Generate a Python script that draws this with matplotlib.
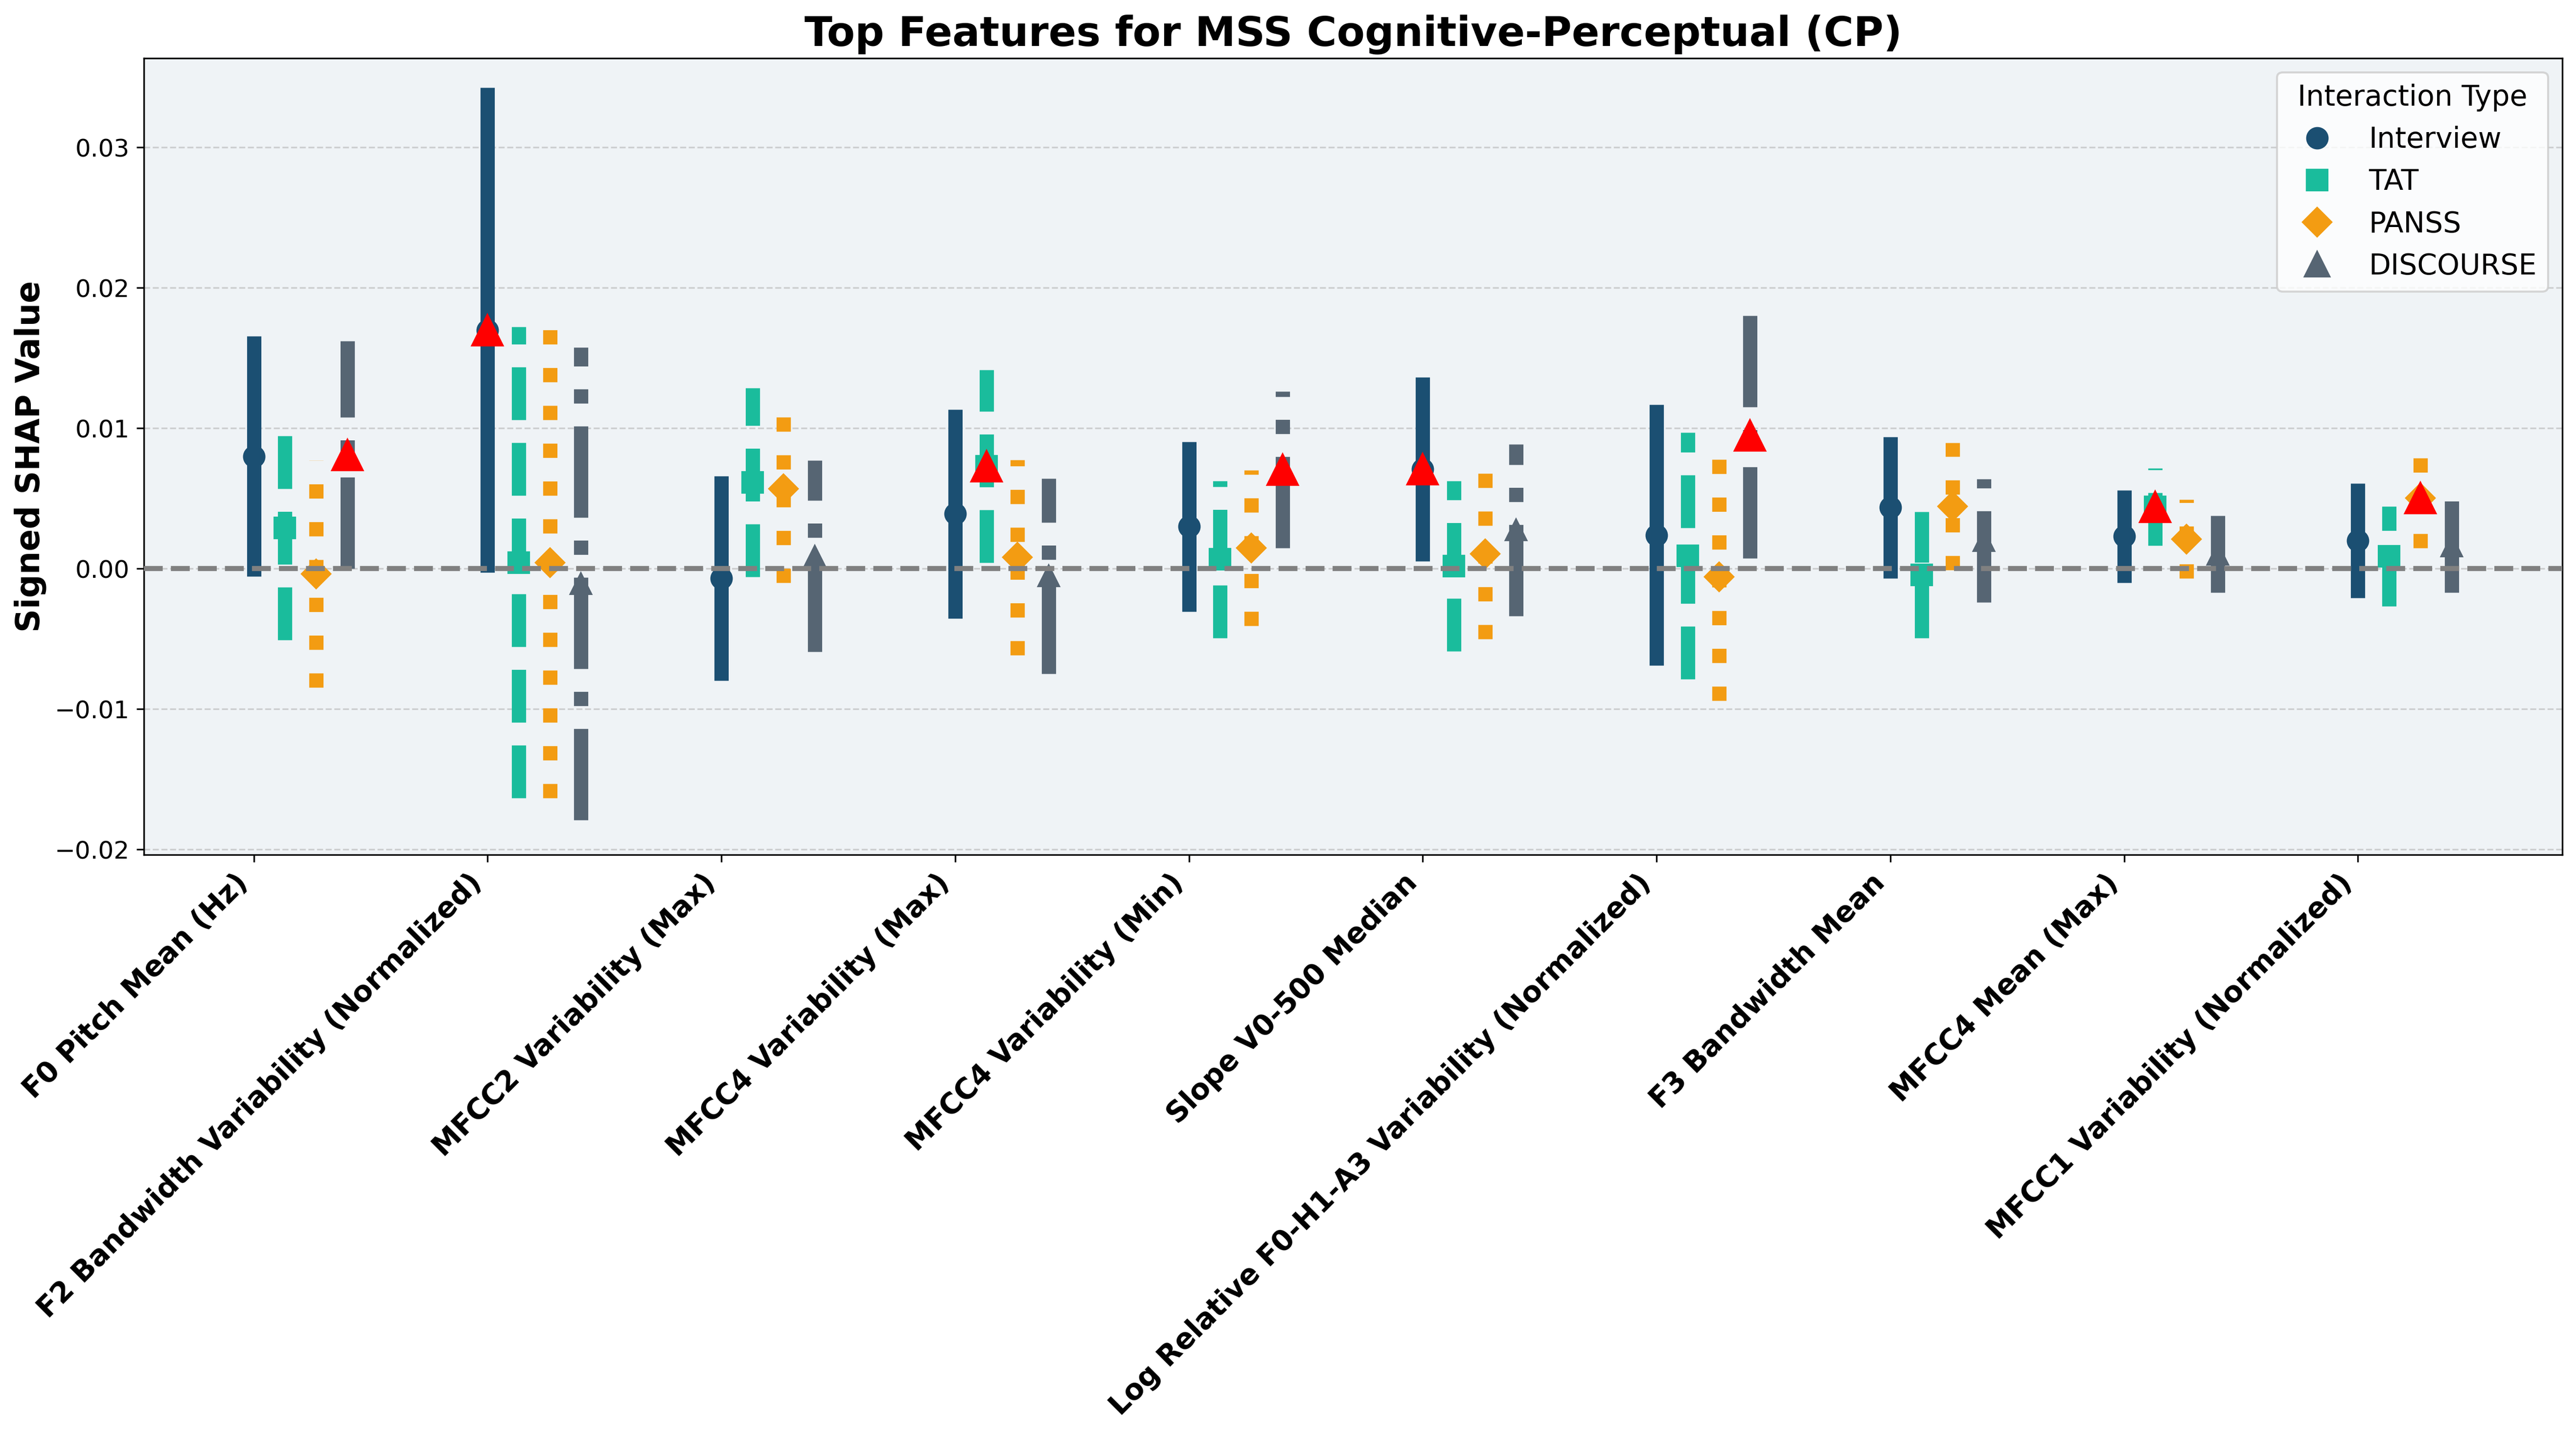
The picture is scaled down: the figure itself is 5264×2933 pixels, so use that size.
import matplotlib
matplotlib.use("Agg")
import matplotlib.pyplot as plt
from matplotlib.lines import Line2D
import numpy as np

features = ["F0 Pitch Mean (Hz)", "F2 Bandwidth Variability (Normalized)",
            "MFCC2 Variability (Max)", "MFCC4 Variability (Max)",
            "MFCC4 Variability (Min)", "Slope V0-500 Median",
            "Log Relative F0-H1-A3 Variability (Normalized)", "F3 Bandwidth Mean",
            "MFCC4 Mean (Max)", "MFCC1 Variability (Normalized)"]

types = ["Interview", "TAT", "PANSS", "DISCOURSE"]

interview_mean = [0.0080, 0.0170, -0.00067, 0.0039, 0.0030, 0.0071, 0.0024, 0.00436, 0.0023, 0.0020]
interview_err = [0.00855, 0.01727, 0.00728, 0.00743, 0.00605, 0.00655, 0.00928, 0.00503, 0.00329, 0.00407]

tat_mean = [0.0029, 0.00044, 0.00614, 0.0073, 0.00067, 0.00018, 0.00092, -0.00044, 0.0044, 0.00089]
tat_err = [0.00796, 0.01678, 0.00673, 0.00686, 0.00559, 0.00606, 0.00879, 0.00451, 0.00274, 0.00355]

panss_mean = [-0.00037, 0.00044, 0.0057, 0.00081, 0.00148, 0.00107, -0.00059, 0.00444, 0.00211, 0.00504]
panss_err = [0.0081, 0.01678, 0.0067, 0.00695, 0.00555, 0.00606, 0.0088, 0.00454, 0.00281, 0.00356]

discourse_mean = [0.0081, -0.00107, 0.0009, -0.00052, 0.00706, 0.00275, 0.0095, 0.0020, 0.00104, 0.0016]
discourse_err = [0.0081, 0.01682, 0.00681, 0.00695, 0.00558, 0.00611, 0.00876, 0.0044, 0.00274, 0.0033]

# type highlighted with a red triangle for each feature (None = no highlight)
highlight = ["DISCOURSE", "Interview", None, "TAT", "DISCOURSE", "Interview",
             "DISCOURSE", None, "TAT", "PANSS"]

means = {"Interview": interview_mean, "TAT": tat_mean, "PANSS": panss_mean, "DISCOURSE": discourse_mean}
errs = {"Interview": interview_err, "TAT": tat_err, "PANSS": panss_err, "DISCOURSE": discourse_err}
colors = {"Interview": "#1B4F72", "TAT": "#1ABC9C", "PANSS": "#F39C12", "DISCOURSE": "#566573"}
markers = {"Interview": "o", "TAT": "s", "PANSS": "D", "DISCOURSE": "^"}
lstyles = {"Interview": "-", "TAT": "--", "PANSS": ":", "DISCOURSE": "-."}

W, H, DPI = 5264, 2933, 300
fig = plt.figure(figsize=(W / DPI, H / DPI), dpi=DPI)
fig.patch.set_facecolor("white")
ax = fig.add_axes([294 / W, 1 - 1746.7 / H, (5236 - 294) / W, (1746.7 - 118.6) / H])
ax.set_facecolor("#EFF3F6")

x = np.arange(len(features))
offset = 0.4 / 3

for j, t in enumerate(types):
    xs = x + j * offset
    m = np.array(means[t])
    e = np.array(errs[t])
    ax.plot(xs, m, linestyle="none", marker=markers[t], markersize=10,
            color=colors[t], zorder=3)
    ax.vlines(xs, m - e, m + e, colors=colors[t], linestyles=lstyles[t],
              linewidth=7, zorder=4)

for i, h in enumerate(highlight):
    if h is None:
        continue
    j = types.index(h)
    ax.plot(x[i] + j * offset, means[h][i], marker="^", markersize=15,
            color="red", linestyle="none", zorder=6)

ax.axhline(0, color="gray", linestyle="--", linewidth=2.5, zorder=5)
ax.grid(axis="y", linestyle="--", color="#b0b0b0", alpha=0.55, linewidth=0.8)
ax.set_axisbelow(True)

ax.set_xlim(-0.47, 9.874)
ax.set_ylim(-0.02036, 0.03637)
ax.set_yticks([-0.02, -0.01, 0.0, 0.01, 0.02, 0.03])
ax.tick_params(axis="y", labelsize=12)
ax.set_xticks(x)
ax.set_xticklabels(features, rotation=45, ha="right", fontsize=14, fontweight="bold")

ax.set_ylabel("Signed SHAP Value", fontsize=16, fontweight="bold")
ax.set_title("Top Features for MSS Cognitive-Perceptual (CP)", fontsize=20, fontweight="bold")

handles = [Line2D([0], [0], linestyle="none", marker=markers[t], color=colors[t],
                  markersize=(12 if t == "DISCOURSE" else 10), label=t) for t in types]
ax.legend(handles=handles, title="Interaction Type", fontsize=14, title_fontsize=14,
          loc="upper right")

fig.savefig("out.png", dpi=DPI)
